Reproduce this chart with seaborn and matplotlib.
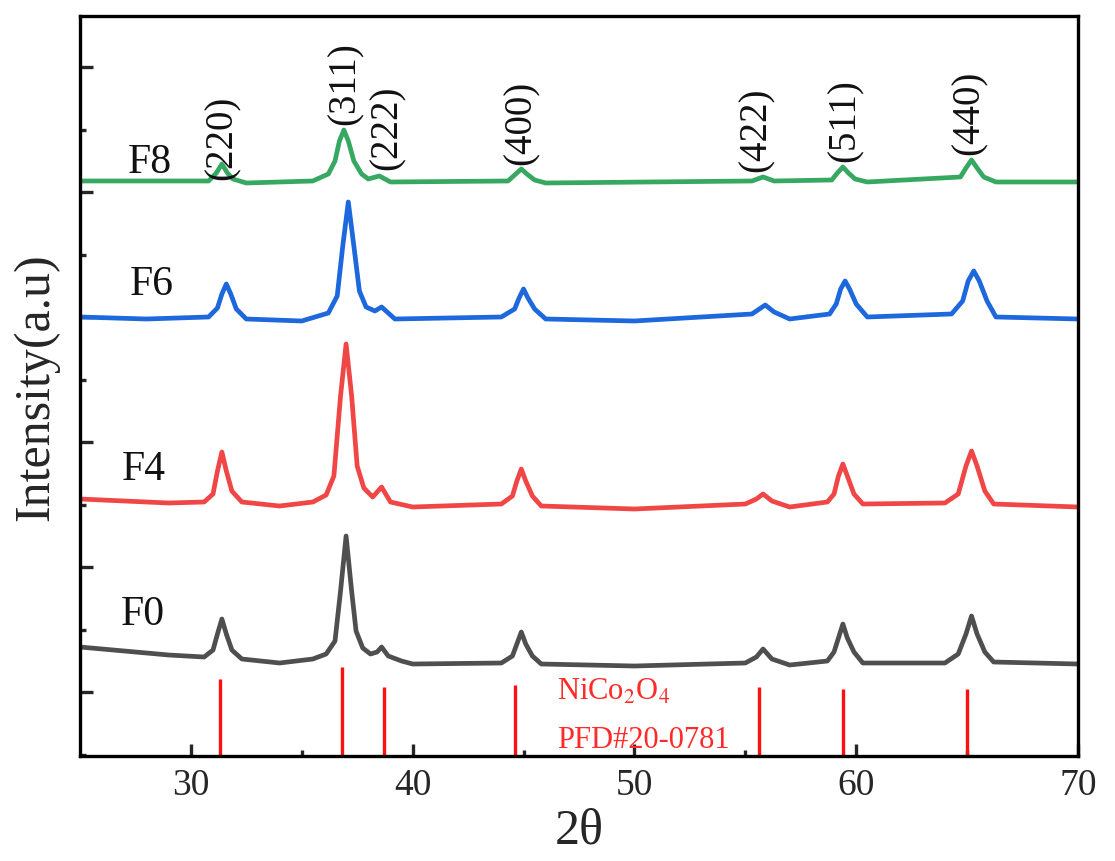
import matplotlib
matplotlib.use("Agg")
import matplotlib.pyplot as plt
import seaborn as sns

# XRD patterns (2theta, intensity in a.u., stacked offsets included)
f0_x = [25.0, 27.0, 29.0, 30.6, 31.0, 31.2, 31.4, 31.6, 31.85, 32.3, 34.0, 35.5, 36.1, 36.5,
        36.75, 37.0, 37.25, 37.45, 37.75, 38.1, 38.4, 38.6, 38.9, 39.5, 40.0, 44.0, 44.5,
        44.7, 44.9, 45.1, 45.4, 45.8, 50.0, 55.0, 55.5, 55.8, 56.2, 57.0, 58.7, 59.0, 59.2,
        59.4, 59.6, 59.9, 60.3, 64.0, 64.6, 64.95, 65.2, 65.45, 65.8, 66.2, 70.0]
f0_y = [109, 105, 101, 99, 106, 122, 137, 122, 106, 97, 93, 97, 102, 115,
        165, 220, 165, 125, 108, 102, 104, 109, 100, 95, 92, 93, 100,
        112, 124, 112, 100, 92, 90, 93, 99, 107, 97, 91, 95, 104, 118,
        132, 118, 104, 93, 93, 102, 122, 140, 122, 104, 94, 92]

f4_x = [25.0, 27.0, 29.0, 30.6, 31.0, 31.2, 31.4, 31.6, 31.85, 32.3, 34.0, 35.5, 36.1, 36.45,
        36.75, 37.0, 37.25, 37.5, 37.8, 38.2, 38.6, 39.0, 40.0, 44.0, 44.5, 44.7, 44.9,
        45.1, 45.4, 45.8, 50.0, 55.0, 55.5, 55.8, 56.2, 57.0, 58.7, 59.0, 59.2, 59.4, 59.6,
        59.9, 60.3, 64.0, 64.6, 64.95, 65.2, 65.45, 65.8, 66.2, 70.0]
f4_y = [257, 255, 253, 254, 262, 285, 304, 285, 265, 254, 250, 254, 261, 280,
        360, 412, 360, 290, 268, 259, 269, 254, 249, 252, 260, 275, 287,
        275, 260, 250, 247, 252, 257, 262, 255, 249, 254, 262, 280, 292, 280,
        262, 252, 253, 262, 290, 305, 290, 265, 252, 249]

f6_x = [25.0, 28.0, 30.8, 31.2, 31.4, 31.6, 31.8, 32.05, 32.5, 35.0, 36.2, 36.6, 36.85, 37.1,
        37.35, 37.6, 37.9, 38.3, 38.6, 39.2, 44.0, 44.6, 44.8, 45.0, 45.2, 45.5, 46.0,
        50.0, 55.3, 55.9, 56.3, 57.0, 58.8, 59.1, 59.3, 59.5, 59.7, 60.0, 60.5, 64.3, 64.8,
        65.05, 65.3, 65.55, 65.9, 66.3, 70.0]
f6_y = [439, 437, 439, 448, 462, 472, 462, 447, 437, 435, 443, 460, 510, 554,
        510, 465, 449, 445, 449, 437, 439, 447, 458, 467, 458, 447, 437,
        435, 442, 451, 444, 437, 442, 452, 467, 475, 467, 452, 439, 442, 455,
        475, 485, 475, 455, 439, 437]

f8_x = [25.0, 30.8, 31.15, 31.4, 31.65, 31.9, 32.5, 35.5, 36.2, 36.5, 36.7, 36.9, 37.1, 37.35,
        37.7, 38.0, 38.5, 39.0, 44.3, 44.65, 44.9, 45.15, 45.5, 46.0, 55.3, 55.8, 56.3,
        58.9, 59.15, 59.4, 59.65, 59.95, 60.5, 64.7, 64.95, 65.2, 65.45, 65.75, 66.3, 70.0]
f8_y = [575, 575, 583, 592, 583, 577, 573, 575, 582, 595, 615, 626, 615, 595,
        582, 577, 580, 574, 575, 582, 587, 582, 576, 573, 575, 579, 575,
        576, 583, 589, 583, 577, 574, 579, 588, 596, 588, 579, 574, 574]

samples = ["F0", "F4", "F6", "F8"]
sample_colors = ["#4f4f4f", "#f04646", "#1c68dc", "#37a862"]
label_x = [26.85, 26.9, 27.25, 27.16]
label_y = [132, 277, 462, 584]

# NiCo2O4 reference card (PDF#20-0781)
ref_pos = [31.3, 36.8, 38.7, 44.6, 55.6, 59.4, 65.0]
ref_int = [77, 89, 69, 71, 69, 67, 67]

hkl = ["(220)", "(311)", "(222)", "(400)", "(422)", "(511)", "(440)"]
hkl_x = [31.4, 36.95, 38.85, 44.9, 55.5, 59.5, 65.1]
hkl_y = [577, 632, 587, 592, 585, 595, 602]

sns.set_theme(style="ticks")
plt.rcParams["font.family"] = ["Liberation Serif", "DejaVu Serif"]
plt.rcParams["mathtext.fontset"] = "stix"

fig = plt.figure(figsize=(11.15, 8.62), dpi=100)
ax = fig.add_axes([0.0717, 0.1218, 0.8951, 0.8585])

curves = [(f0_x, f0_y), (f4_x, f4_y), (f6_x, f6_y), (f8_x, f8_y)]
for (xs, ys), name, col in zip(curves, samples, sample_colors):
    sns.lineplot(x=xs, y=ys, color=col, linewidth=3.4, ax=ax, sort=False)

ax.vlines(ref_pos, 0, ref_int, color="#ff1010", linewidth=2.4)

for name, col, lx, ly in zip(samples, sample_colors, label_x, label_y):
    ax.text(lx, ly, name, fontsize=30, va="baseline", ha="left", color="#111111")

for lab, hx, hy in zip(hkl, hkl_x, hkl_y):
    ax.text(hx, hy, lab, fontsize=28, rotation=90, ha="center", va="bottom", color="#111111")

ax.text(46.5, 57, r"NiCo$_2$O$_4$", fontsize=22, color="#ff2a2a", va="baseline", ha="left")
ax.text(46.5, 9, "PFD#20-0781", fontsize=22, color="#ff2a2a", va="baseline", ha="left")

ax.set_xlim(25, 70)
ax.set_ylim(0, 740)
ax.set_xticks([30, 40, 50, 60, 70])
ax.set_xticks([35, 45, 55, 65], minor=True)
ax.set_yticks([64, 189, 314, 439, 564, 689])
ax.set_yticks([1, 126, 251, 376, 501, 626], minor=True)
ax.set_yticklabels([])
ax.tick_params(axis="both", which="major", direction="in", length=9, width=2.4,
               labelsize=27, pad=8)
ax.tick_params(axis="both", which="minor", direction="in", length=4.5, width=2.4)
ax.tick_params(axis="y", which="both", left=True, right=False)
ax.tick_params(axis="x", which="both", bottom=True, top=False)
for sp in ax.spines.values():
    sp.set_linewidth(2.4)
    sp.set_color("black")

ax.set_xlabel("2θ", fontsize=36, labelpad=4)
ax.set_ylabel("Intensity(a.u)", fontsize=36, labelpad=7)

fig.savefig("out.png", dpi=100)
